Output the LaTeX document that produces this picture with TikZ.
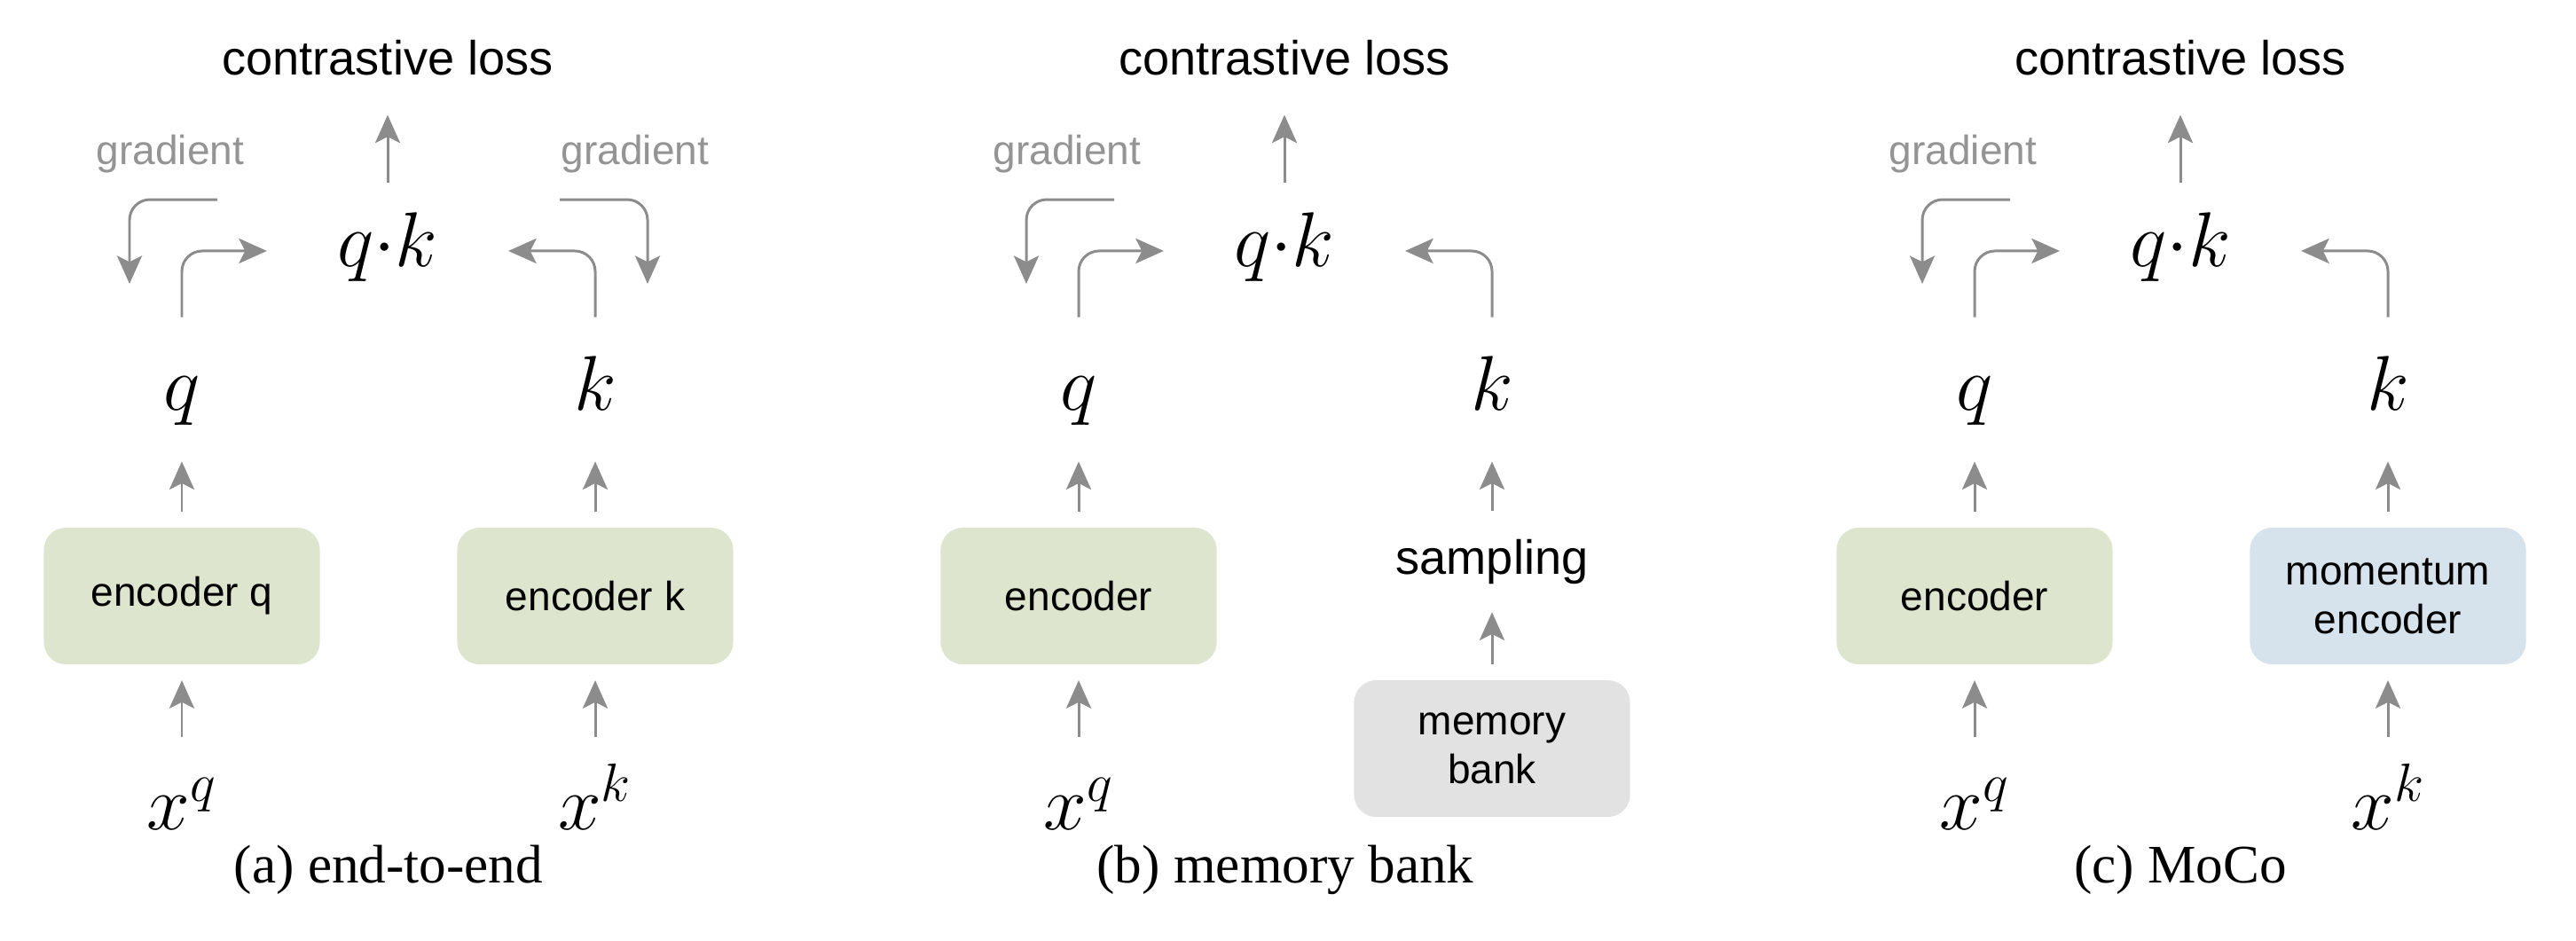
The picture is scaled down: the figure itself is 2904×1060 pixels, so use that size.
\documentclass[tikz,border=0pt]{standalone}
\usepackage{fontspec}
\setmainfont{Liberation Serif}
\setsansfont{Liberation Sans}
\usepackage{tikz}
\usetikzlibrary{arrows.meta,positioning}

\definecolor{arrowgray}{RGB}{140,140,140}
\definecolor{gradgray}{RGB}{148,148,148}
\definecolor{encgreen}{RGB}{221,229,206}
\definecolor{encblue}{RGB}{214,226,236}
\definecolor{bankgray}{RGB}{226,226,226}

\begin{document}
\begin{tikzpicture}[x=0.01cm,y=-0.01cm,
    every node/.style={inner sep=0pt},
    loss/.style={font=\sffamily\fontsize{15.4}{18}\selectfont,anchor=base,outer sep=0.45cm},
    grad/.style={font=\sffamily\fontsize{13.1}{15.6}\selectfont,text=gradgray,anchor=base},
    var/.style={font=\fontsize{26.2}{30}\selectfont,text height=18.3pt,text depth=5.2pt,outer sep=0.4cm,anchor=base},
    prod/.style={var,text depth=8.6pt,minimum width=2.12cm,outer sep=0.3cm},
    enc/.style={fill=encgreen,rounded corners=0.25cm,minimum width=3.11cm,minimum height=1.54cm,outer sep=0.18cm,align=center,font=\sffamily\fontsize{13.1}{15.6}\selectfont},
    caption/.style={font=\fontsize{17.4}{20}\selectfont,anchor=base},
    flow/.style={draw=arrowgray,line width=0.85pt,rounded corners=0.23cm,-{Stealth[length=9pt,width=8pt,inset=2pt]}}]
    \useasboundingbox (0,0) rectangle (2904,1060);

    % (a) end-to-end
    \node[loss] (La) at (437,84) {contrastive loss};
    \node[prod] (Pa) at (437,300) {$q{\cdot}k$};
    \node[grad] (Ga) at (192,185) {gradient};
    \node[grad] (Ha) at (716,185) {gradient};
    \node[var] (Qa) at (205,462) {$q$};
    \node[var] (Ka) at (671,462) {$k$};
    \node[enc] (Ea) at (205,672) {encoder q};
    \node[enc] (Fa) at (671,672) {encoder k};
    \node[var] (XQa) at (205,935) {$x^q$};
    \node[var] (XKa) at (671,935) {$x^k$};
    \node[caption] (Ca) at (438,995) {(a) end-to-end};
    \coordinate (GSa) at (245,225);
    \coordinate (GEa) at (146,320);
    \coordinate (HSa) at (631,225);
    \coordinate (HEa) at (730,320);
    \draw[flow] (Pa) -- (La);
    \draw[flow] (Qa) |- (Pa);
    \draw[flow] (Ka) |- (Pa);
    \draw[flow] (Ea) -- (Qa);
    \draw[flow] (Fa) -- (Ka);
    \draw[flow] (XQa) -- (Ea);
    \draw[flow] (XKa) -- (Fa);
    \draw[flow] (GSa) -| (GEa);
    \draw[flow] (HSa) -| (HEa);

    % (b) memory bank
    \node[loss] (Lb) at (1448,84) {contrastive loss};
    \node[prod] (Pb) at (1448,300) {$q{\cdot}k$};
    \node[grad] (Gb) at (1203,185) {gradient};
    \node[var] (Qb) at (1216,462) {$q$};
    \node[var] (Kb) at (1682,462) {$k$};
    \node[enc] (Eb) at (1216,672) {encoder};
    \node[loss,outer sep=0.32cm] (Sb) at (1682,647) {sampling};
    \node[enc,fill=bankgray] (Mb) at (1682,844) {memory\\bank};
    \node[var] (XQb) at (1216,935) {$x^q$};
    \node[caption] (Cb) at (1449,995) {(b) memory bank};
    \coordinate (GSb) at (1256,225);
    \coordinate (GEb) at (1157,320);
    \draw[flow] (Pb) -- (Lb);
    \draw[flow] (Qb) |- (Pb);
    \draw[flow] (Kb) |- (Pb);
    \draw[flow] (Eb) -- (Qb);
    \draw[flow] (Sb) -- (Kb);
    \draw[flow] (Mb) -- (Sb);
    \draw[flow] (XQb) -- (Eb);
    \draw[flow] (GSb) -| (GEb);

    % (c) MoCo
    \node[loss] (Lc) at (2458,84) {contrastive loss};
    \node[prod] (Pc) at (2458,300) {$q{\cdot}k$};
    \node[grad] (Gc) at (2213,185) {gradient};
    \node[var] (Qc) at (2226,462) {$q$};
    \node[var] (Kc) at (2692,462) {$k$};
    \node[enc] (Ec) at (2226,672) {encoder};
    \node[enc,fill=encblue] (Mc) at (2692,672) {momentum\\encoder};
    \node[var] (XQc) at (2226,935) {$x^q$};
    \node[var] (XKc) at (2692,935) {$x^k$};
    \node[caption] (Cc) at (2458,995) {(c) MoCo};
    \coordinate (GSc) at (2266,225);
    \coordinate (GEc) at (2167,320);
    \draw[flow] (Pc) -- (Lc);
    \draw[flow] (Qc) |- (Pc);
    \draw[flow] (Kc) |- (Pc);
    \draw[flow] (Ec) -- (Qc);
    \draw[flow] (Mc) -- (Kc);
    \draw[flow] (XQc) -- (Ec);
    \draw[flow] (XKc) -- (Mc);
    \draw[flow] (GSc) -| (GEc);
\end{tikzpicture}
\end{document}
